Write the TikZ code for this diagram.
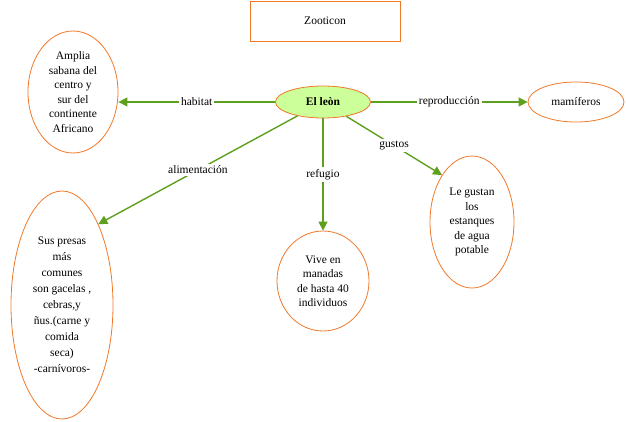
\documentclass[tikz,border=0pt]{standalone}
\usepackage{fontspec}
\setmainfont{Liberation Serif}
\usetikzlibrary{arrows.meta, shapes.geometric}
\definecolor{edgeorange}{HTML}{F07828}
\definecolor{leongreen}{HTML}{CCFF99}
\definecolor{arrowgreen}{HTML}{5EA01E}

\begin{document}
\begin{tikzpicture}[
    x=1pt, y=-1pt,
    font=\fontsize{11.5}{14.5}\selectfont,
    bubble/.style={
      draw=edgeorange,
      thick,
      ellipse,
      align=center,
      inner sep=0pt
    },
    arrow/.style={-{Triangle[length=9pt,width=9pt]}, arrowgreen, line width=1.4pt},
    lbl/.style={fill=white, inner sep=2pt, text=black}
]
\useasboundingbox (0,0) rectangle (626,422);
\node[draw=edgeorange, thick, minimum width=150pt, minimum height=40pt] (title) at (325,21) {Zooticon};
\node[bubble, fill=leongreen, minimum width=95pt, minimum height=32pt, font=\fontsize{11.5}{14.5}\selectfont\bfseries] (leon) at (323,102) {El leòn};
\node[bubble, minimum width=90pt, minimum height=122pt] (habitat) at (73,92) {Amplia\\sabana del\\centro y\\sur del\\continente\\Africano};
\node[bubble, minimum width=96pt, minimum height=40pt] (mamif) at (576,102) {mamíferos};
\node[bubble, minimum width=84pt, minimum height=132pt] (gustos) at (472,222) {Le gustan\\los\\estanques\\de agua\\potable};
\node[bubble, minimum width=92pt, minimum height=100pt] (refugio) at (323,281) {Vive en\\manadas\\de hasta 40\\individuos};
\node[bubble, minimum width=102pt, minimum height=228pt, font=\fontsize{11.5}{16}\selectfont] (presas) at (62,305) {Sus presas\\más\\comunes\\son gacelas ,\\cebras,y\\ñus.(carne y\\comida\\seca)\\-carnívoros-};
\draw[arrow] (leon.west) -- node[lbl]{habitat} (habitat.east |- leon.west);
\draw[arrow] (leon) -- node[lbl]{reproducción} (mamif);
\draw[arrow] (leon) -- node[lbl, pos=0.5]{alimentación} (presas.north east);
\draw[arrow] (leon) -- node[lbl]{refugio} (refugio);
\draw[arrow] (leon) -- node[lbl]{gustos} (gustos.north west);
\end{tikzpicture}
\end{document}
